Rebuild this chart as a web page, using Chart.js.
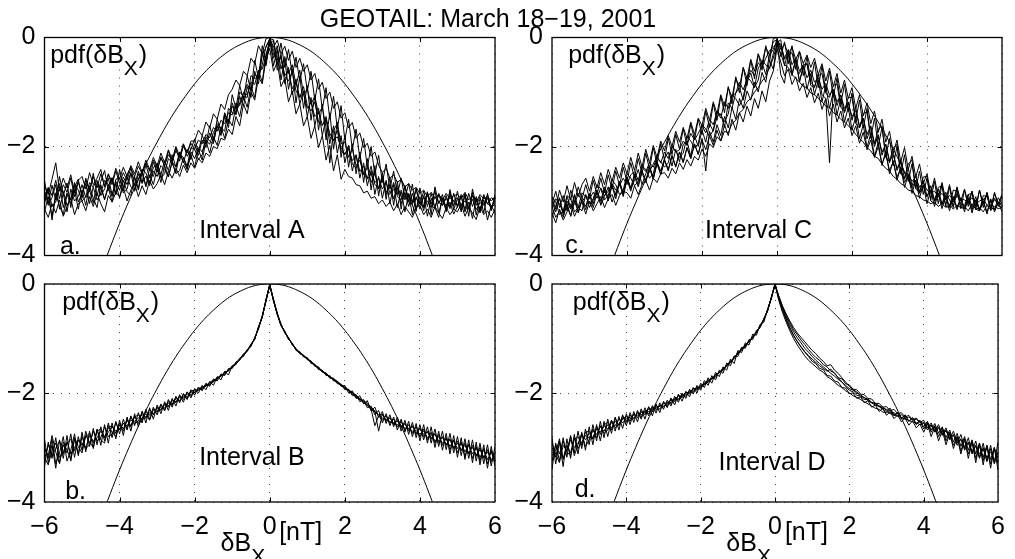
<!DOCTYPE html>
<html>
<head>
<meta charset="utf-8">
<script src="https://cdn.jsdelivr.net/npm/chart.js@4.4.1/dist/chart.umd.min.js"></script>
<style>
html, body { margin: 0; padding: 0; background: #fff; }
#wrap { position: relative; width: 1015px; height: 559px; overflow: hidden; background: #fff; }
#wrap canvas { position: absolute; left: 0; top: 0; }
</style>
</head>
<body>
<div id="wrap">
  <canvas id="pa" width="1015" height="559"></canvas>
  <canvas id="pb" width="1015" height="559"></canvas>
  <canvas id="pc" width="1015" height="559"></canvas>
  <canvas id="pd" width="1015" height="559"></canvas>
</div>
<script>
// bin centres of the pdfs, dB_x in nT
const BINS = [
-6,-5.9,-5.8,-5.7,-5.6,-5.5,-5.4,-5.3,-5.2,-5.1,
-5,-4.9,-4.8,-4.7,-4.6,-4.5,-4.4,-4.3,-4.2,-4.1,
-4,-3.9,-3.8,-3.7,-3.6,-3.5,-3.4,-3.3,-3.2,-3.1,
-3,-2.9,-2.8,-2.7,-2.6,-2.5,-2.4,-2.3,-2.2,-2.1,
-2,-1.9,-1.8,-1.7,-1.6,-1.5,-1.4,-1.3,-1.2,-1.1,
-1,-0.9,-0.8,-0.7,-0.6,-0.5,-0.4,-0.3,-0.2,-0.1,
0,0.1,0.2,0.3,0.4,0.5,0.6,0.7,0.8,0.9,
1,1.1,1.2,1.3,1.4,1.5,1.6,1.7,1.8,1.9,
2,2.1,2.2,2.3,2.4,2.5,2.6,2.7,2.8,2.9,
3,3.1,3.2,3.3,3.4,3.5,3.6,3.7,3.8,3.9,
4,4.1,4.2,4.3,4.4,4.5,4.6,4.7,4.8,4.9,
5,5.1,5.2,5.3,5.4,5.5,5.6,5.7,5.8,5.9,
6];

// gaussian reference curve
const GAUSS_X = [-4.5,-4.25,-4,-3.75,-3.5,-3.25,-3,-2.75,-2.5,-2.25,-2,-1.75,-1.5,-1.25,-1,-0.75,-0.5,-0.25,0,
  0.25,0.5,0.75,1,1.25,1.5,1.75,2,2.25,2.5,2.75,3,3.25,3.5,3.75,4,4.25,4.5];
const GAUSS_Y = [-4.31,-3.85,-3.41,-3.0,-2.61,-2.25,-1.92,-1.61,-1.33,-1.08,-0.85,-0.65,-0.48,-0.33,-0.21,-0.12,-0.05,-0.01,0,
  -0.01,-0.05,-0.12,-0.21,-0.33,-0.48,-0.65,-0.85,-1.08,-1.33,-1.61,-1.92,-2.25,-2.61,-3.0,-3.41,-3.85,-4.31];

const X_TICKS = [-6, -4, -2, 0, 2, 4, 6];
const Y_TICKS = [-4, -2, 0];

// Interval A
const A1 = [
-2.62,-3.05,-2.71,-2.98,-2.55,-2.90,-2.67,-3.12,-2.74,-2.60,
-2.95,-2.58,-2.83,-2.49,-2.90,-2.64,-2.44,-2.81,-2.57,-2.88,
-2.42,-2.75,-2.51,-2.38,-2.72,-2.45,-2.66,-2.33,-2.58,-2.29,
-2.47,-2.19,-2.36,-2.08,-2.30,-2.02,-2.27,-1.96,-2.18,-2.05,
-1.86,-2.10,-1.80,-1.95,-1.62,-1.88,-1.50,-1.73,-1.38,-1.58,
-1.05,-1.30,-0.88,-1.15,-0.70,-0.98,-0.42,-0.75,-0.15,-0.48,
0.00,-0.52,-0.22,-0.78,-0.40,-0.95,-0.58,-1.20,-0.71,-1.30,
-0.88,-1.52,-1.05,-1.70,-1.22,-1.88,-1.38,-2.05,-1.55,-2.20,
-1.80,-2.38,-1.95,-2.50,-2.10,-2.66,-2.22,-2.80,-2.35,-2.91,
-2.48,-2.97,-2.56,-3.08,-2.64,-3.15,-2.72,-3.02,-2.69,-3.19,
-2.76,-3.12,-2.83,-3.25,-2.74,-3.05,-2.88,-3.20,-2.79,-3.10,
-2.82,-3.16,-2.87,-3.28,-2.78,-3.08,-2.92,-3.22,-2.86,-3.14,
-2.94];
const A2 = [
-3.20,-2.92,-3.28,-2.85,-3.10,-3.25,-2.88,-3.05,-2.79,-3.15,
-2.80,-3.08,-2.72,-2.95,-3.12,-2.70,-2.98,-2.75,-3.02,-2.68,
-2.95,-2.62,-2.83,-2.90,-2.55,-2.80,-2.48,-2.74,-2.52,-2.70,
-2.40,-2.66,-2.35,-2.55,-2.28,-2.50,-2.44,-2.20,-2.42,-2.15,
-2.38,-2.05,-2.25,-1.90,-2.12,-1.82,-1.98,-1.64,-1.85,-1.50,
-1.62,-1.25,-1.45,-1.08,-1.28,-0.90,-1.10,-0.60,-0.82,-0.30,
-0.12,-0.05,-0.60,-0.30,-0.85,-0.55,-1.05,-0.76,-1.22,-0.98,
-1.45,-1.10,-1.62,-1.30,-1.80,-1.48,-1.95,-1.62,-2.12,-1.80,
-2.30,-2.00,-2.45,-2.15,-2.58,-2.30,-2.72,-2.44,-2.88,-2.55,
-2.95,-2.62,-3.05,-2.70,-3.12,-2.80,-3.20,-2.88,-3.25,-2.92,
-3.15,-2.90,-3.28,-2.95,-3.12,-3.30,-2.94,-3.18,-3.02,-3.24,
-3.10,-2.92,-3.20,-3.02,-3.32,-2.95,-3.22,-2.98,-3.35,-3.08,
-3.22];
const A3 = [
-2.88,-2.78,-3.10,-3.02,-2.74,-2.82,-3.08,-2.95,-2.70,-2.80,
-3.00,-2.92,-2.66,-2.75,-2.98,-2.86,-2.62,-2.70,-2.92,-2.60,
-2.58,-2.85,-2.78,-2.50,-2.60,-2.76,-2.42,-2.48,-2.68,-2.38,
-2.35,-2.58,-2.50,-2.22,-2.30,-2.48,-2.14,-2.20,-2.36,-2.02,
-2.05,-2.24,-2.15,-1.82,-1.90,-1.95,-1.58,-1.66,-1.72,-1.30,
-1.38,-1.40,-1.00,-1.08,-1.10,-0.70,-0.75,-0.72,-0.32,-0.18,
-0.02,-0.30,-0.45,-0.35,-0.72,-0.80,-0.62,-0.98,-1.10,-0.90,
-1.25,-1.35,-1.18,-1.55,-1.62,-1.45,-1.82,-1.90,-1.70,-2.08,
-2.15,-1.98,-2.32,-2.40,-2.18,-2.50,-2.58,-2.36,-2.70,-2.75,
-2.55,-2.82,-2.88,-2.66,-2.92,-2.98,-2.72,-3.02,-3.06,-2.80,
-3.05,-3.10,-2.84,-3.08,-3.14,-2.86,-3.02,-3.12,-2.90,-3.00,
-3.08,-2.88,-2.95,-3.15,-2.90,-2.98,-3.18,-2.92,-3.04,-3.12,
-3.00];
const A4 = [
-3.05,-2.76,-3.35,-2.90,-2.68,-3.12,-2.85,-2.98,-2.66,-3.02,
-2.86,-2.68,-3.05,-2.74,-2.62,-2.90,-2.78,-2.58,-2.88,-2.64,
-2.80,-2.56,-2.70,-2.48,-2.82,-2.60,-2.45,-2.72,-2.40,-2.55,
-2.30,-2.52,-2.26,-2.44,-2.15,-2.38,-2.10,-2.30,-2.05,-2.24,
-1.95,-2.16,-1.88,-2.02,-1.75,-1.92,-1.62,-1.80,-1.44,-1.65,
-1.20,-1.42,-1.08,-1.26,-0.90,-1.10,-0.62,-0.85,-0.28,-0.52,
-0.08,-0.38,-0.15,-0.58,-0.35,-0.66,-0.50,-0.88,-0.60,-1.05,
-0.95,-1.22,-1.08,-1.40,-1.28,-1.65,-2.30,-1.70,-1.58,-1.95,
-1.92,-2.20,-2.05,-2.35,-2.25,-2.52,-2.38,-2.66,-2.50,-2.78,
-2.60,-2.88,-2.70,-2.96,-2.76,-3.05,-2.84,-3.10,-2.86,-3.14,
-2.92,-3.18,-2.86,-3.06,-2.80,-3.22,-2.96,-3.10,-2.84,-3.16,
-2.95,-3.20,-2.88,-3.12,-2.84,-3.26,-2.96,-3.06,-2.90,-3.18,
-2.88];
const A5 = [
-2.82,-3.08,-2.94,-2.70,-3.15,-2.86,-3.20,-2.78,-3.00,-2.92,
-2.70,-2.94,-2.80,-3.04,-2.66,-2.78,-2.96,-2.72,-2.58,-2.88,
-2.70,-2.82,-2.55,-2.74,-2.80,-2.50,-2.68,-2.54,-2.72,-2.45,
-2.55,-2.35,-2.42,-2.56,-2.28,-2.38,-2.12,-2.28,-2.42,-2.10,
-2.22,-2.02,-2.10,-1.88,-1.96,-1.74,-1.62,-1.78,-1.40,-1.55,
-1.26,-1.38,-1.20,-1.02,-0.86,-0.98,-0.68,-0.74,-0.50,-0.16,
-0.04,-0.22,-0.46,-0.38,-0.70,-0.60,-0.94,-0.82,-1.10,-1.04,
-1.30,-1.20,-1.45,-1.38,-1.60,-1.52,-1.76,-1.88,-1.82,-2.02,
-2.14,-2.04,-2.26,-2.16,-2.46,-2.36,-2.60,-2.50,-2.66,-2.58,
-2.78,-2.66,-2.85,-2.80,-2.72,-2.92,-2.98,-2.86,-3.04,-2.94,
-3.06,-2.94,-3.00,-3.12,-2.92,-3.02,-3.08,-2.95,-3.10,-2.99,
-2.94,-3.06,-3.00,-3.12,-2.97,-3.16,-3.03,-3.08,-2.95,-3.12,
-3.06];
const A6 = [
-2.70,-2.88,-2.60,-2.30,-2.82,-2.58,-2.76,-2.52,-2.85,-2.62,
-2.55,-2.78,-2.48,-2.70,-2.58,-2.42,-2.74,-2.50,-2.66,-2.40,
-2.60,-2.38,-2.55,-2.35,-2.50,-2.28,-2.48,-2.25,-2.42,-2.20,
-2.36,-2.12,-2.30,-2.06,-2.24,-2.00,-2.18,-1.95,-2.12,-1.90,
-1.90,-1.70,-1.80,-1.55,-1.66,-1.40,-1.50,-1.22,-1.32,-1.05,
-0.95,-0.78,-0.88,-0.62,-0.70,-0.38,-0.48,-0.15,-0.30,-0.02,
0.00,-0.18,-0.05,-0.30,-0.16,-0.42,-0.25,-0.55,-0.38,-0.62,
-0.50,-0.78,-0.66,-0.95,-0.82,-1.12,-1.00,-1.30,-1.18,-1.48,
-1.38,-1.66,-1.56,-1.85,-1.75,-2.02,-1.94,-2.18,-2.10,-2.34,
-2.48,-2.40,-2.58,-2.52,-2.66,-2.60,-2.74,-2.68,-2.80,-2.75,
-2.86,-2.80,-2.92,-2.84,-2.95,-2.88,-2.98,-2.86,-2.96,-2.90,
-2.88,-2.96,-2.84,-2.98,-2.90,-3.02,-2.88,-2.96,-2.92,-3.00,
-2.92];
const A7 = [
-3.15,-3.30,-3.05,-3.22,-2.98,-3.28,-3.10,-2.95,-3.25,-3.05,
-3.00,-3.18,-2.92,-3.10,-2.86,-3.05,-3.20,-2.90,-3.02,-2.84,
-2.92,-2.75,-3.00,-2.80,-2.68,-2.92,-2.72,-2.88,-2.62,-2.78,
-2.68,-2.52,-2.70,-2.45,-2.58,-2.40,-2.55,-2.34,-2.48,-2.30,
-2.40,-2.22,-2.30,-2.12,-2.18,-2.00,-2.04,-1.85,-1.88,-1.68,
-1.78,-1.45,-1.62,-1.22,-1.40,-1.00,-1.15,-0.72,-0.85,-0.40,
-0.20,-0.62,-0.45,-0.90,-0.75,-1.18,-0.98,-1.40,-1.22,-1.62,
-1.45,-1.85,-1.62,-2.02,-1.80,-2.25,-1.98,-2.45,-2.15,-2.60,
-2.42,-2.55,-2.58,-2.70,-2.72,-2.85,-2.82,-2.95,-2.92,-3.05,
-2.98,-3.10,-3.02,-3.18,-3.05,-3.25,-3.10,-3.20,-3.30,-3.12,
-3.08,-3.25,-3.15,-3.30,-3.10,-3.22,-3.32,-3.12,-3.25,-3.15,
-3.20,-3.05,-3.28,-3.12,-3.22,-3.34,-3.10,-3.25,-3.18,-3.30,
-3.15];
const A8 = [
-3.00,-2.75,-2.90,-2.62,-2.96,-2.70,-2.84,-2.58,-2.92,-2.66,
-2.86,-2.62,-2.80,-2.55,-2.76,-2.50,-2.72,-2.52,-2.70,-2.45,
-2.68,-2.48,-2.62,-2.40,-2.55,-2.36,-2.50,-2.30,-2.45,-2.25,
-2.40,-2.22,-2.34,-2.15,-2.26,-2.08,-2.20,-2.00,-2.12,-1.94,
-2.05,-1.88,-1.95,-1.78,-1.84,-1.65,-1.72,-1.52,-1.58,-1.38,
-1.42,-1.20,-1.25,-1.02,-1.05,-0.82,-0.86,-0.60,-0.58,-0.36,
-0.02,-0.04,-0.42,-0.10,-0.55,-0.22,-0.68,-0.36,-0.80,-0.48,
-0.98,-0.62,-1.15,-0.76,-1.32,-0.92,-1.50,-1.08,-1.68,-1.25,
-1.88,-1.50,-2.05,-1.68,-2.22,-1.85,-2.38,-2.00,-2.52,-2.16,
-2.66,-2.32,-2.78,-2.45,-2.88,-2.58,-2.96,-2.68,-3.02,-2.76,
-3.06,-2.82,-3.10,-2.86,-3.12,-2.88,-3.08,-2.90,-3.14,-2.86,
-3.12,-2.90,-3.16,-2.86,-3.10,-2.92,-3.18,-2.88,-3.06,-2.94,
-2.98];

// Interval B
const B1 = [
-3.35,-2.90,-3.20,-2.82,-3.28,-2.95,-3.10,-2.75,-3.18,-2.80,
-3.05,-2.70,-2.98,-2.65,-2.95,-2.62,-2.88,-2.55,-2.82,-2.52,
-2.75,-2.48,-2.68,-2.42,-2.60,-2.36,-2.55,-2.30,-2.48,-2.26,
-2.40,-2.20,-2.33,-2.12,-2.26,-2.06,-2.18,-2.01,-2.12,-1.94,
-2.04,-1.89,-1.96,-1.82,-1.88,-1.74,-1.78,-1.65,-1.68,-1.55,
-1.55,-1.43,-1.40,-1.29,-1.24,-1.11,-1.01,-0.79,-0.61,-0.29,
0.00,-0.31,-0.56,-0.74,-0.89,-0.99,-1.11,-1.19,-1.28,-1.31,
-1.39,-1.42,-1.51,-1.53,-1.62,-1.64,-1.73,-1.74,-1.83,-1.84,
-1.94,-1.93,-2.05,-2.03,-2.16,-2.12,-2.27,-2.24,-2.40,-2.32,
-2.55,-2.38,-2.60,-2.44,-2.68,-2.48,-2.72,-2.52,-2.80,-2.56,
-2.88,-2.58,-2.92,-2.62,-3.00,-2.70,-3.05,-2.74,-3.12,-2.78,
-3.18,-2.82,-3.22,-2.86,-3.28,-2.90,-3.32,-2.95,-3.38,-2.98,
-3.35];
const B2 = [
-2.85,-3.28,-2.95,-3.38,-2.86,-3.20,-2.78,-3.25,-2.84,-3.12,
-2.72,-3.08,-2.70,-3.02,-2.66,-2.96,-2.58,-2.92,-2.55,-2.84,
-2.50,-2.78,-2.44,-2.70,-2.38,-2.62,-2.33,-2.55,-2.27,-2.48,
-2.22,-2.38,-2.16,-2.32,-2.10,-2.24,-2.03,-2.17,-1.98,-2.09,
-1.92,-2.00,-1.86,-1.94,-1.79,-1.86,-1.70,-1.76,-1.60,-1.67,
-1.50,-1.48,-1.36,-1.33,-1.20,-1.15,-0.98,-0.83,-0.58,-0.32,
-0.03,-0.28,-0.53,-0.77,-0.86,-1.02,-1.08,-1.22,-1.24,-1.34,
-1.35,-1.46,-1.47,-1.57,-1.58,-1.68,-1.68,-1.78,-1.78,-1.88,
-1.86,-2.00,-1.96,-2.10,-2.05,-2.20,-2.14,-2.33,-2.26,-2.45,
-2.34,-2.56,-2.40,-2.62,-2.44,-2.70,-2.50,-2.76,-2.54,-2.82,
-2.58,-2.86,-2.62,-2.92,-2.66,-2.98,-2.70,-3.04,-2.74,-3.10,
-2.80,-3.15,-2.84,-3.20,-2.86,-3.25,-2.92,-3.30,-2.95,-3.34,
-2.98];
const B3 = [
-3.02,-3.20,-2.85,-3.30,-3.10,-2.80,-3.25,-3.05,-2.75,-3.15,
-2.80,-3.02,-2.95,-2.70,-2.88,-2.82,-2.62,-2.80,-2.76,-2.55,
-2.68,-2.55,-2.64,-2.44,-2.56,-2.52,-2.35,-2.47,-2.30,-2.40,
-2.26,-2.32,-2.19,-2.26,-2.12,-2.18,-2.05,-2.12,-1.98,-2.06,
-1.99,-1.91,-1.92,-1.84,-1.84,-1.80,-1.71,-1.70,-1.61,-1.60,
-1.50,-1.47,-1.37,-1.31,-1.21,-1.13,-0.99,-0.81,-0.59,-0.31,
-0.01,-0.29,-0.56,-0.76,-0.87,-1.01,-1.09,-1.21,-1.25,-1.33,
-1.36,-1.44,-1.48,-1.56,-1.59,-1.66,-1.71,-1.76,-1.81,-1.86,
-1.91,-1.96,-2.01,-2.06,-2.11,-2.17,-2.23,-2.30,-2.60,-2.42,
-2.50,-2.42,-2.56,-2.48,-2.62,-2.52,-2.68,-2.58,-2.74,-2.62,
-2.80,-2.66,-2.86,-2.72,-2.92,-2.76,-2.96,-2.82,-3.04,-2.86,
-3.10,-2.90,-3.16,-2.94,-3.20,-2.98,-3.24,-3.02,-3.30,-3.05,
-3.22];
const B4 = [
-3.22,-2.95,-3.15,-3.02,-2.88,-3.12,-2.92,-2.85,-3.06,-2.86,
-2.96,-2.80,-2.74,-2.92,-2.70,-2.66,-2.82,-2.64,-2.60,-2.74,
-2.55,-2.66,-2.48,-2.60,-2.44,-2.40,-2.50,-2.34,-2.41,-2.29,
-2.34,-2.22,-2.28,-2.15,-2.20,-2.08,-2.14,-2.02,-2.08,-1.96,
-1.95,-1.94,-1.88,-1.88,-1.80,-1.77,-1.74,-1.67,-1.65,-1.57,
-1.54,-1.44,-1.39,-1.28,-1.23,-1.10,-1.02,-0.78,-0.62,-0.28,
-0.02,-0.32,-0.54,-0.73,-0.90,-0.98,-1.12,-1.18,-1.27,-1.30,
-1.38,-1.41,-1.50,-1.52,-1.61,-1.63,-1.71,-1.73,-1.79,-1.84,
-1.89,-1.94,-1.99,-2.04,-2.12,-2.14,-2.19,-2.26,-2.33,-2.70,
-2.38,-2.52,-2.45,-2.58,-2.50,-2.64,-2.56,-2.70,-2.60,-2.76,
-2.64,-2.80,-2.70,-2.85,-2.74,-2.92,-2.80,-2.96,-2.84,-3.02,
-2.88,-3.06,-2.92,-3.12,-2.96,-3.16,-3.00,-3.20,-3.04,-3.26,
-3.10];
const B5 = [
-3.00,-3.15,-2.78,-3.08,-3.30,-2.90,-3.05,-3.22,-2.82,-2.98,
-3.10,-2.78,-2.90,-3.00,-2.68,-2.86,-2.92,-2.60,-2.72,-2.80,
-2.58,-2.70,-2.50,-2.62,-2.42,-2.56,-2.46,-2.38,-2.50,-2.30,
-2.35,-2.25,-2.30,-2.18,-2.22,-2.10,-2.15,-2.05,-2.10,-1.98,
-2.00,-1.92,-1.94,-1.85,-1.86,-1.76,-1.75,-1.68,-1.66,-1.58,
-1.53,-1.46,-1.38,-1.30,-1.22,-1.12,-1.00,-0.80,-0.60,-0.30,
-0.02,-0.30,-0.55,-0.75,-0.88,-1.00,-1.10,-1.20,-1.26,-1.32,
-1.37,-1.43,-1.49,-1.54,-1.60,-1.65,-1.70,-1.75,-1.80,-1.86,
-1.92,-1.96,-2.02,-2.08,-2.12,-2.18,-2.22,-2.30,-2.35,-2.40,
-2.46,-2.48,-2.52,-2.56,-2.58,-2.62,-2.64,-2.66,-2.70,-2.72,
-2.75,-2.70,-2.82,-2.76,-2.88,-2.80,-2.92,-2.84,-2.98,-2.88,
-3.02,-2.92,-3.08,-2.96,-3.12,-3.00,-3.18,-3.04,-3.22,-3.08,
-3.28];
const B6 = [
-3.18,-3.32,-3.05,-2.92,-3.18,-3.08,-2.90,-3.12,-3.00,-2.88,
-2.92,-3.02,-2.78,-2.88,-2.82,-2.70,-2.80,-2.72,-2.62,-2.70,
-2.66,-2.56,-2.60,-2.50,-2.52,-2.46,-2.40,-2.44,-2.36,-2.38,
-2.28,-2.30,-2.22,-2.24,-2.14,-2.16,-2.08,-2.08,-2.02,-2.03,
-1.98,-1.95,-1.90,-1.87,-1.83,-1.79,-1.72,-1.69,-1.63,-1.59,
-1.51,-1.46,-1.38,-1.31,-1.22,-1.13,-1.00,-0.81,-0.60,-0.30,
-0.02,-0.29,-0.55,-0.76,-0.88,-1.00,-1.10,-1.20,-1.27,-1.32,
-1.37,-1.42,-1.49,-1.55,-1.60,-1.66,-1.70,-1.76,-1.80,-1.85,
-1.90,-1.95,-2.00,-2.05,-2.10,-2.15,-2.22,-2.28,-2.34,-2.40,
-2.40,-2.50,-2.46,-2.55,-2.52,-2.60,-2.56,-2.66,-2.62,-2.70,
-2.66,-2.76,-2.72,-2.82,-2.76,-2.88,-2.82,-2.94,-2.86,-3.00,
-2.92,-3.04,-2.96,-3.10,-3.00,-3.14,-3.04,-3.18,-3.08,-3.22,
-3.15];

// Interval C
const C1 = [
-3.05,-2.82,-3.12,-2.90,-3.18,-2.80,-3.02,-2.74,-2.96,-2.70,
-2.95,-2.62,-2.88,-2.58,-2.85,-2.52,-2.78,-2.45,-2.72,-2.38,
-2.65,-2.30,-2.58,-2.22,-2.50,-2.12,-2.42,-2.02,-2.32,-1.95,
-2.25,-1.85,-2.15,-1.78,-2.05,-1.68,-1.98,-1.58,-1.88,-1.50,
-1.78,-1.35,-1.65,-1.22,-1.52,-1.08,-1.38,-0.90,-1.22,-0.72,
-1.02,-0.55,-0.88,-0.42,-0.76,-0.30,-0.60,-0.15,-0.45,-0.02,
0.00,-0.35,-0.08,-0.48,-0.15,-0.58,-0.26,-0.70,-0.35,-0.82,
-0.45,-0.92,-0.52,-1.00,-0.62,-1.10,-0.74,-1.22,-0.86,-1.36,
-1.02,-1.52,-1.15,-1.66,-1.30,-1.84,-1.48,-2.00,-1.65,-2.18,
-1.85,-2.35,-2.00,-2.50,-2.15,-2.64,-2.32,-2.78,-2.45,-2.88,
-2.58,-2.98,-2.64,-3.05,-2.70,-3.10,-2.74,-3.12,-2.76,-3.14,
-2.80,-3.10,-2.82,-3.16,-2.80,-3.12,-2.85,-3.18,-2.84,-3.10,
-2.90];
const C2 = [
-3.22,-3.40,-3.15,-3.30,-3.05,-3.28,-3.00,-3.20,-2.96,-3.16,
-2.88,-3.12,-2.84,-3.06,-2.78,-3.00,-2.72,-2.96,-2.66,-2.90,
-2.60,-2.82,-2.55,-2.74,-2.48,-2.66,-2.40,-2.60,-2.32,-2.52,
-2.25,-2.45,-2.18,-2.38,-2.10,-2.30,-2.02,-2.22,-1.95,-2.15,
-1.85,-2.45,-1.72,-1.92,-1.60,-1.80,-1.45,-1.66,-1.28,-1.50,
-1.12,-1.30,-0.98,-1.15,-0.82,-1.00,-0.64,-0.82,-0.42,-0.58,
-0.10,-0.04,-0.52,-0.25,-0.66,-0.40,-0.82,-0.52,-0.95,-0.66,
-1.05,-0.78,-1.18,-0.88,-1.30,-1.00,-1.42,-1.12,-1.55,-1.28,
-1.70,-1.45,-1.85,-1.60,-2.02,-1.76,-2.18,-1.92,-2.35,-2.08,
-2.50,-2.26,-2.62,-2.38,-2.75,-2.52,-2.86,-2.62,-2.95,-2.70,
-3.05,-2.80,-3.10,-2.86,-3.14,-2.90,-3.18,-2.92,-3.16,-2.95,
-3.20,-2.94,-3.22,-2.98,-3.18,-3.00,-3.24,-2.96,-3.20,-3.02,
-3.20];
const C3 = [
-2.92,-3.02,-3.25,-3.18,-2.90,-2.96,-3.20,-3.12,-2.85,-2.92,
-3.05,-2.96,-2.70,-2.78,-2.98,-2.90,-2.62,-2.70,-2.88,-2.80,
-2.50,-2.58,-2.72,-2.64,-2.36,-2.42,-2.58,-2.50,-2.20,-2.28,
-2.38,-2.30,-2.00,-2.08,-2.20,-2.12,-1.82,-1.90,-2.02,-1.95,
-1.60,-1.68,-1.82,-1.70,-1.35,-1.42,-1.55,-1.40,-1.05,-1.12,
-1.25,-1.10,-0.72,-0.80,-0.92,-0.78,-0.42,-0.50,-0.58,-0.30,
-0.02,-0.18,-0.40,-0.32,-0.28,-0.58,-0.66,-0.50,-0.48,-0.82,
-0.90,-0.70,-0.66,-1.02,-1.10,-0.88,-0.85,-1.28,-1.35,-1.10,
-1.10,-1.58,-1.66,-1.40,-1.36,-1.85,-1.95,-1.68,-1.62,-2.20,
-2.28,-2.02,-1.96,-2.50,-2.58,-2.32,-2.25,-2.78,-2.84,-2.56,
-2.55,-3.00,-3.05,-2.75,-2.72,-3.10,-3.12,-2.80,-2.82,-3.12,
-3.14,-2.88,-2.86,-3.15,-3.18,-2.90,-2.92,-3.12,-3.16,-2.94,
-3.05];
const C4 = [
-3.30,-3.08,-2.95,-3.22,-3.10,-3.28,-2.90,-3.12,-3.18,-2.88,
-3.12,-2.98,-2.80,-3.08,-2.92,-2.74,-3.02,-2.85,-2.66,-2.92,
-2.56,-2.78,-2.62,-2.42,-2.70,-2.50,-2.35,-2.60,-2.28,-2.45,
-2.22,-2.10,-2.36,-2.05,-2.28,-1.96,-1.90,-2.18,-1.80,-2.00,
-1.70,-1.92,-1.58,-1.72,-1.45,-1.40,-1.65,-1.20,-1.30,-1.02,
-0.92,-1.15,-0.82,-0.65,-0.92,-0.56,-0.46,-0.68,-0.32,-0.22,
-0.06,-0.68,-0.84,-0.30,-0.70,-0.42,-0.80,-0.55,-0.48,-0.88,
-0.92,-0.66,-1.05,-1.12,-2.30,-0.95,-1.25,-1.05,-1.38,-1.18,
-1.52,-1.28,-1.66,-1.48,-1.86,-1.64,-2.00,-1.78,-2.16,-1.96,
-2.30,-2.10,-2.44,-2.26,-2.60,-2.40,-2.72,-2.52,-2.84,-2.62,
-2.92,-2.72,-2.98,-2.78,-3.06,-2.84,-2.98,-3.10,-2.86,-3.05,
-3.08,-2.88,-3.12,-2.92,-3.16,-2.98,-2.90,-3.14,-2.95,-3.08,
-3.12];
const C5 = [
-3.12,-2.96,-3.05,-3.22,-2.92,-3.12,-3.06,-2.86,-3.02,-2.90,
-2.96,-2.84,-2.95,-2.76,-2.90,-2.82,-2.68,-2.80,-2.72,-2.58,
-2.70,-2.52,-2.46,-2.62,-2.38,-2.46,-2.30,-2.38,-2.20,-2.30,
-2.10,-2.22,-2.00,-2.10,-2.06,-1.90,-1.98,-1.76,-1.88,-1.76,
-1.62,-1.75,-1.50,-1.60,-1.36,-1.48,-1.18,-1.30,-1.08,-1.02,
-0.82,-0.96,-0.76,-0.60,-0.70,-0.46,-0.55,-0.38,-0.24,-0.18,
-0.10,-0.12,-0.38,-0.22,-0.50,-0.38,-0.62,-0.50,-0.74,-0.60,
-0.82,-0.74,-0.95,-0.84,-1.06,-0.95,-1.18,-1.06,-1.30,-1.20,
-1.45,-1.34,-1.62,-1.48,-1.78,-1.62,-1.94,-1.82,-2.10,-1.96,
-2.26,-2.16,-2.40,-2.26,-2.50,-2.50,-2.64,-2.56,-2.75,-2.66,
-2.80,-2.86,-2.82,-2.92,-2.86,-2.96,-2.90,-2.98,-2.92,-2.96,
-2.98,-3.02,-2.94,-3.05,-3.00,-2.96,-3.08,-3.02,-2.98,-3.05,
-3.04];
const C6 = [
-3.10,-3.30,-3.18,-3.35,-3.20,-3.05,-3.28,-3.12,-3.02,-3.24,
-3.00,-3.18,-3.05,-2.92,-3.12,-2.96,-2.88,-3.08,-2.90,-2.82,
-2.85,-2.95,-2.72,-2.88,-2.70,-2.62,-2.80,-2.58,-2.66,-2.50,
-2.48,-2.58,-2.40,-2.50,-2.30,-2.42,-2.24,-2.36,-2.18,-2.25,
-2.05,-2.18,-1.95,-2.02,-1.82,-1.90,-1.72,-1.75,-1.58,-1.52,
-1.38,-1.32,-1.18,-1.12,-1.00,-0.92,-0.80,-0.72,-0.55,-0.38,
-0.12,-0.30,-0.50,-0.55,-0.68,-0.75,-0.82,-0.90,-0.92,-1.02,
-1.05,-1.12,-1.18,-1.26,-1.28,-1.38,-1.42,-1.50,-1.55,-1.62,
-1.68,-1.78,-1.85,-1.92,-2.02,-2.08,-2.18,-2.22,-2.32,-2.40,
-2.45,-2.55,-2.60,-2.68,-2.72,-2.80,-2.82,-2.90,-2.92,-2.98,
-3.00,-3.05,-3.02,-3.10,-3.05,-3.12,-3.06,-3.15,-3.08,-3.12,
-3.10,-3.18,-3.05,-3.15,-3.12,-3.20,-3.08,-3.16,-3.10,-3.14,
-3.12];
const C7 = [
-2.95,-3.15,-2.80,-3.02,-2.72,-2.98,-2.66,-2.92,-2.70,-2.58,
-2.82,-2.55,-2.76,-2.48,-2.70,-2.42,-2.64,-2.38,-2.58,-2.30,
-2.50,-2.20,-2.44,-2.12,-2.38,-2.05,-2.30,-1.98,-2.20,-1.90,
-2.08,-1.80,-2.00,-1.72,-1.92,-1.65,-1.85,-1.55,-1.78,-1.48,
-1.62,-1.30,-1.52,-1.18,-1.40,-1.05,-1.26,-0.92,-1.10,-0.75,
-0.90,-0.55,-0.75,-0.40,-0.62,-0.30,-0.48,-0.18,-0.32,-0.08,
-0.04,-0.22,-0.12,-0.30,-0.18,-0.40,-0.25,-0.48,-0.32,-0.55,
-0.38,-0.68,-0.48,-0.80,-0.56,-0.90,-0.66,-1.02,-0.78,-1.12,
-0.92,-1.30,-1.05,-1.44,-1.20,-1.58,-1.35,-1.74,-1.50,-1.92,
-1.72,-2.12,-1.88,-2.28,-2.02,-2.42,-2.18,-2.56,-2.32,-2.68,
-2.50,-2.85,-2.58,-2.92,-2.66,-2.98,-2.70,-3.02,-2.74,-3.00,
-2.78,-3.05,-2.82,-3.10,-2.80,-3.06,-2.84,-3.12,-2.86,-3.04,
-2.88];
const C8 = [
-3.02,-3.20,-2.94,-3.26,-3.00,-3.15,-2.88,-3.22,-2.98,-3.10,
-2.86,-3.05,-2.80,-3.00,-2.74,-2.95,-2.70,-2.90,-2.64,-2.85,
-2.56,-2.76,-2.50,-2.70,-2.44,-2.62,-2.38,-2.56,-2.30,-2.50,
-2.24,-2.42,-2.16,-2.36,-2.10,-2.28,-2.02,-2.22,-1.96,-2.14,
-1.88,-2.06,-1.80,-1.98,-1.70,-1.90,-1.60,-1.80,-1.50,-1.70,
-1.38,-1.55,-1.26,-1.44,-1.12,-1.30,-0.98,-1.18,-0.80,-0.62,
-0.20,-0.45,-0.70,-0.58,-0.86,-0.72,-0.98,-0.84,-1.10,-0.92,
-1.20,-1.02,-1.32,-1.12,-1.44,-1.22,-1.55,-1.35,-1.66,-1.48,
-1.80,-1.62,-1.94,-1.74,-2.06,-1.88,-2.20,-2.00,-2.32,-2.14,
-2.44,-2.28,-2.56,-2.40,-2.66,-2.52,-2.76,-2.62,-2.86,-2.72,
-2.92,-2.80,-3.00,-2.86,-3.06,-2.90,-3.10,-2.92,-3.12,-2.94,
-3.14,-2.96,-3.16,-2.98,-3.18,-3.00,-3.20,-2.98,-3.16,-3.02,
-3.10];

// Interval D
const D1 = [
-3.40,-2.92,-3.25,-2.82,-3.18,-2.78,-3.10,-2.70,-3.02,-2.66,
-2.95,-2.58,-2.88,-2.52,-2.82,-2.48,-2.74,-2.44,-2.68,-2.40,
-2.60,-2.36,-2.54,-2.32,-2.48,-2.27,-2.42,-2.23,-2.37,-2.18,
-2.30,-2.13,-2.24,-2.06,-2.17,-2.00,-2.10,-1.93,-2.02,-1.86,
-1.95,-1.77,-1.86,-1.68,-1.76,-1.58,-1.64,-1.45,-1.50,-1.32,
-1.33,-1.16,-1.18,-1.02,-1.02,-0.85,-0.80,-0.63,-0.50,-0.24,
0.00,-0.27,-0.48,-0.66,-0.82,-0.95,-1.06,-1.16,-1.25,-1.33,
-1.42,-1.46,-1.55,-1.57,-1.68,-1.69,-1.78,-1.80,-1.90,-1.91,
-2.01,-2.00,-2.10,-2.07,-2.18,-2.14,-2.26,-2.22,-2.34,-2.28,
-2.41,-2.34,-2.47,-2.40,-2.53,-2.46,-2.59,-2.51,-2.64,-2.57,
-2.72,-2.56,-2.80,-2.62,-2.88,-2.68,-2.95,-2.74,-3.02,-2.80,
-3.12,-2.84,-3.20,-2.88,-3.28,-2.92,-3.32,-2.96,-3.38,-3.00,
-3.42];
const D2 = [
-2.82,-3.30,-2.90,-3.35,-2.84,-3.20,-2.76,-3.12,-2.72,-3.05,
-2.62,-2.95,-2.58,-2.88,-2.52,-2.80,-2.50,-2.70,-2.43,-2.65,
-2.38,-2.58,-2.34,-2.53,-2.29,-2.48,-2.25,-2.42,-2.20,-2.36,
-2.15,-2.27,-2.09,-2.22,-2.02,-2.15,-1.97,-2.07,-1.90,-2.00,
-1.82,-1.90,-1.72,-1.82,-1.62,-1.70,-1.52,-1.58,-1.38,-1.46,
-1.22,-1.26,-1.08,-1.12,-0.92,-0.94,-0.74,-0.70,-0.46,-0.27,
-0.02,-0.22,-0.41,-0.58,-0.71,-0.84,-0.93,-1.03,-1.11,-1.20,
-1.28,-1.35,-1.40,-1.48,-1.52,-1.60,-1.63,-1.72,-1.74,-1.83,
-1.85,-1.93,-1.94,-2.02,-2.03,-2.10,-2.11,-2.19,-2.19,-2.26,
-2.25,-2.33,-2.30,-2.38,-2.36,-2.44,-2.41,-2.49,-2.46,-2.54,
-2.50,-2.64,-2.55,-2.70,-2.58,-2.76,-2.64,-2.84,-2.70,-2.92,
-2.76,-3.02,-2.82,-3.10,-2.88,-3.18,-2.92,-3.24,-2.96,-3.28,
-2.90];
const D3 = [
-3.00,-3.18,-2.84,-3.22,-3.05,-2.80,-3.15,-2.95,-2.74,-2.98,
-2.86,-2.66,-2.82,-2.60,-2.74,-2.68,-2.50,-2.64,-2.58,-2.42,
-2.54,-2.40,-2.48,-2.35,-2.44,-2.32,-2.38,-2.26,-2.32,-2.22,
-2.26,-2.17,-2.20,-2.10,-2.13,-2.03,-2.06,-1.96,-1.99,-1.89,
-1.91,-1.82,-1.81,-1.72,-1.71,-1.61,-1.59,-1.49,-1.45,-1.35,
-1.29,-1.18,-1.15,-1.04,-0.99,-0.87,-0.79,-0.64,-0.49,-0.25,
-0.01,-0.24,-0.43,-0.60,-0.75,-0.88,-0.99,-1.08,-1.18,-1.25,
-1.33,-1.40,-1.46,-1.52,-1.58,-1.64,-1.69,-1.75,-1.80,-1.86,
-1.92,-1.95,-2.00,-2.03,-2.09,-2.11,-2.17,-2.19,-2.24,-2.26,
-2.32,-2.28,-2.40,-2.36,-2.46,-2.42,-2.52,-2.46,-2.58,-2.52,
-2.66,-2.54,-2.72,-2.60,-2.80,-2.64,-2.88,-2.72,-2.96,-2.80,
-3.06,-2.86,-3.12,-2.90,-3.20,-2.96,-3.24,-2.98,-3.30,-3.02,
-3.20];
const D4 = [
-3.25,-2.95,-3.12,-2.88,-3.08,-3.15,-2.85,-2.80,-2.96,-2.72,
-2.70,-2.85,-2.62,-2.76,-2.58,-2.54,-2.68,-2.46,-2.60,-2.48,
-2.42,-2.52,-2.38,-2.46,-2.32,-2.40,-2.26,-2.35,-2.22,-2.30,
-2.18,-2.24,-2.11,-2.16,-2.04,-2.09,-1.98,-2.02,-1.91,-1.95,
-1.86,-1.85,-1.76,-1.75,-1.66,-1.63,-1.55,-1.51,-1.41,-1.37,
-1.25,-1.22,-1.11,-1.07,-0.96,-0.90,-0.76,-0.67,-0.47,-0.26,
0.00,-0.22,-0.40,-0.55,-0.68,-0.80,-0.90,-0.98,-1.06,-1.14,
-1.22,-1.28,-1.36,-1.42,-1.50,-1.48,-1.58,-1.64,-1.72,-1.80,
-1.88,-1.94,-1.98,-2.06,-2.08,-2.14,-2.18,-2.22,-2.25,-2.30,
-2.34,-2.38,-2.40,-2.43,-2.45,-2.48,-2.50,-2.53,-2.55,-2.58,
-2.54,-2.68,-2.58,-2.72,-2.62,-2.78,-2.68,-2.86,-2.76,-2.96,
-2.84,-3.05,-2.90,-3.12,-2.96,-3.20,-3.00,-3.26,-3.02,-3.30,
-3.08];
const D5 = [
-3.15,-3.05,-2.88,-3.20,-2.96,-3.10,-2.82,-3.02,-2.90,-2.78,
-2.82,-2.70,-2.76,-2.62,-2.70,-2.58,-2.64,-2.52,-2.58,-2.46,
-2.50,-2.44,-2.46,-2.38,-2.40,-2.36,-2.34,-2.30,-2.28,-2.24,
-2.24,-2.20,-2.17,-2.13,-2.10,-2.06,-2.03,-1.99,-1.96,-1.92,
-1.89,-1.84,-1.79,-1.74,-1.69,-1.63,-1.57,-1.50,-1.43,-1.36,
-1.28,-1.21,-1.14,-1.06,-0.98,-0.89,-0.78,-0.66,-0.49,-0.26,
-0.01,-0.30,-0.52,-0.70,-0.86,-1.00,-1.12,-1.22,-1.32,-1.40,
-1.46,-1.52,-1.58,-1.62,-1.70,-1.74,-1.80,-1.86,-1.90,-1.96,
-2.00,-2.05,-2.08,-2.12,-2.16,-2.20,-2.24,-2.28,-2.30,-2.35,
-2.36,-2.30,-2.42,-2.36,-2.48,-2.40,-2.52,-2.45,-2.56,-2.50,
-2.62,-2.52,-2.68,-2.56,-2.74,-2.62,-2.82,-2.68,-2.90,-2.74,
-2.98,-2.80,-3.05,-2.86,-3.12,-2.92,-3.18,-2.96,-3.22,-3.00,
-3.30];
const D6 = [
-2.92,-3.12,-3.28,-2.96,-3.06,-2.86,-3.00,-2.92,-2.78,-2.86,
-2.74,-2.82,-2.66,-2.72,-2.60,-2.66,-2.54,-2.60,-2.48,-2.55,
-2.46,-2.48,-2.40,-2.42,-2.36,-2.34,-2.30,-2.28,-2.26,-2.24,
-2.20,-2.18,-2.14,-2.12,-2.06,-2.05,-2.00,-1.98,-1.93,-1.91,
-1.87,-1.82,-1.77,-1.73,-1.67,-1.62,-1.56,-1.49,-1.42,-1.35,
-1.27,-1.20,-1.13,-1.05,-0.97,-0.88,-0.77,-0.65,-0.48,-0.25,
0.00,-0.26,-0.46,-0.64,-0.80,-0.94,-1.05,-1.15,-1.24,-1.31,
-1.38,-1.44,-1.50,-1.55,-1.60,-1.56,-1.64,-1.72,-1.80,-1.88,
-1.95,-1.98,-2.04,-2.06,-2.12,-2.12,-2.18,-2.20,-2.24,-2.28,
-2.30,-2.36,-2.36,-2.42,-2.40,-2.46,-2.44,-2.50,-2.48,-2.54,
-2.56,-2.64,-2.60,-2.70,-2.65,-2.74,-2.70,-2.80,-2.78,-2.88,
-2.86,-2.98,-2.92,-3.06,-2.98,-3.12,-3.04,-3.18,-3.08,-3.22,
-3.15];

const W = 1015, H = 559, YW = 40, XH = 57;
const FONT = '"Liberation Sans", Arial, Helvetica, sans-serif';
const FS = 25, SUB = 21;
const fmt = v => (v < 0 ? '\u2212' + Math.abs(v) : String(v));

// box, inward ticks and annotations
const framePlugin = {
  id: 'frame',
  afterDraw(chart, args, opts) {
    const { ctx, chartArea: a, scales: { x, y } } = chart;
    ctx.save();
    ctx.strokeStyle = '#000';
    ctx.lineWidth = 1.3;
    ctx.strokeRect(a.left, a.top, a.right - a.left, a.bottom - a.top);
    ctx.lineWidth = 1;
    ctx.beginPath();
    X_TICKS.slice(1, -1).forEach(v => {
      const px = Math.round(x.getPixelForValue(v)) + 0.5;
      ctx.moveTo(px, a.top); ctx.lineTo(px, a.top + 4.5);
      ctx.moveTo(px, a.bottom); ctx.lineTo(px, a.bottom - 4.5);
    });
    Y_TICKS.slice(1, -1).forEach(v => {
      const py = Math.round(y.getPixelForValue(v)) + 0.5;
      ctx.moveTo(a.left, py); ctx.lineTo(a.left + 4.5, py);
      ctx.moveTo(a.right, py); ctx.lineTo(a.right - 4.5, py);
    });
    ctx.stroke();

    ctx.fillStyle = '#000';
    ctx.textBaseline = 'alphabetic';
    ctx.textAlign = 'left';
    (opts.texts || []).forEach(t => {
      let px = x.getPixelForValue(t.x);
      const py = t.below !== undefined ? a.bottom + t.below : y.getPixelForValue(t.y);
      t.parts.forEach(([s, dy, size, gap]) => {
        ctx.font = (size || FS) + 'px ' + FONT;
        px += gap || 0;
        ctx.fillText(s, px, py + dy);
        px += ctx.measureText(s).width;
      });
    });
    if (opts.title) {
      ctx.font = FS + 'px ' + FONT;
      ctx.textAlign = 'center';
      ctx.fillText(opts.title.text, opts.title.cx, opts.title.base);
    }
    ctx.restore();
  }
};

function makePanel(id, box, curves, texts, showX, title) {
  const datasets = curves.map(c => ({
    data: BINS.map((bx, i) => ({ x: bx, y: c[i] })),
    borderColor: '#000',
    borderWidth: 1,
    pointRadius: 0,
    tension: 0
  }));
  datasets.push({
    data: GAUSS_X.map((gx, i) => ({ x: gx, y: GAUSS_Y[i] })),
    borderColor: '#000',
    borderWidth: 1,
    pointRadius: 0,
    tension: 0.4
  });

  const xh = showX ? XH : 0;
  const tickFont = { family: FONT, size: FS };
  new Chart(document.getElementById(id), {
    type: 'line',
    data: { datasets },
    options: {
      responsive: false,
      animation: false,
      events: [],
      layout: {
        autoPadding: false,
        padding: { left: box.l - YW, top: box.t, right: W - box.r, bottom: H - box.b - xh }
      },
      plugins: {
        legend: { display: false },
        tooltip: { enabled: false },
        frame: { texts: texts, title: title }
      },
      scales: {
        x: {
          type: 'linear', min: -6, max: 6,
          afterBuildTicks: s => { s.ticks = X_TICKS.map(v => ({ value: v })); },
          afterFit: s => { s.height = xh; },
          grid: { color: '#444', lineWidth: 1, drawTicks: false },
          border: { display: false, dash: [1, 7] },
          ticks: { display: showX, padding: 10, autoSkip: false, maxRotation: 0, color: '#000', font: tickFont, callback: fmt }
        },
        y: {
          type: 'linear', min: -4, max: 0,
          afterBuildTicks: s => { s.ticks = Y_TICKS.map(v => ({ value: v })); },
          afterFit: s => { s.width = YW; },
          grid: { color: '#444', lineWidth: 1, drawTicks: false },
          border: { display: false, dash: [1, 7] },
          ticks: { padding: 9, color: '#000', font: tickFont, callback: fmt }
        }
      }
    },
    plugins: [framePlugin]
  });
}

const pdfLabel = x => ({ x: x, y: -0.47, parts: [['pdf(\u03b4B', 0], ['X', 12, SUB], [')', 0, FS, 1]] });
const xLabel = { x: -1.31, below: 49, parts: [['\u03b4B', 0], ['X', 12, SUB], ['[nT]', -11, FS, 14]] };

makePanel('pa', { l: 44.5, r: 495, t: 37.5, b: 255.5 }, [A1, A2, A3, A4, A5, A6, A7, A8],
  [pdfLabel(-5.85), { x: -1.88, y: -3.67, parts: [['Interval A', 0]] }, { x: -5.59, y: -3.97, parts: [['a.', 0]] }],
  false, { text: 'GEOTAIL: March 18\u221219, 2001', cx: 488, base: 27 });
makePanel('pc', { l: 552, r: 1002, t: 37.5, b: 255.5 }, [C1, C2, C3, C4, C5, C6, C7, C8],
  [pdfLabel(-5.57), { x: -1.92, y: -3.68, parts: [['Interval C', 0]] }, { x: -5.65, y: -3.96, parts: [['c.', 0]] }],
  false, null);
makePanel('pb', { l: 44.5, r: 495, t: 284, b: 502 }, [B1, B2, B3, B4, B5, B6],
  [pdfLabel(-5.53), { x: -1.88, y: -3.32, parts: [['Interval B', 0]] }, { x: -5.45, y: -3.95, parts: [['b.', 0]] }, xLabel],
  true, null);
makePanel('pd', { l: 552, r: 1002, t: 284, b: 502 }, [D1, D2, D3, D4, D5, D6],
  [pdfLabel(-5.44), { x: -1.52, y: -3.41, parts: [['Interval D', 0]] }, { x: -5.39, y: -3.9, parts: [['d.', 0]] }, xLabel],
  true, null);
</script>
</body>
</html>
